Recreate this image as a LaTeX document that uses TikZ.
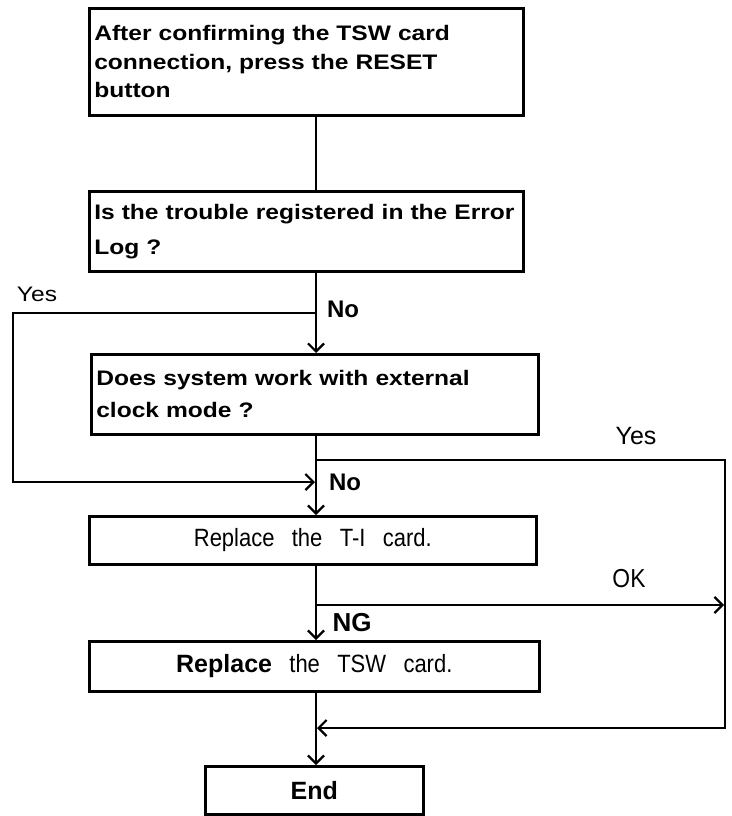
\documentclass[tikz,border=0pt]{standalone}
\usepackage{fontspec}
\setmainfont{Liberation Sans}
\newfontfamily\wideface{Liberation Sans}[FakeStretch=1.17]
\newfontfamily\thinface{Liberation Sans}[FakeStretch=0.88]
\usetikzlibrary{arrows.meta}

\newcommand{\gap}{~\hspace{9pt}}

\begin{document}
\begin{tikzpicture}[x=1pt, y=-1pt, line width=2.6pt,
    >={Straight Barb[length=8pt,width=16pt,line width=2.2pt]},
    box/.style={draw, rectangle, anchor=north west, inner xsep=5pt, inner ysep=0pt,
        align=left, font=\wideface\bfseries\fontsize{21}{28.5}\selectfont},
    card/.style={draw, rectangle, anchor=north west, inner xsep=5pt, inner ysep=0pt,
        align=center, font=\fontsize{25}{28}\selectfont},
    lbl/.style={font=\bfseries\fontsize{24}{26}\selectfont, inner sep=0pt},
    note/.style={font=\thinface\fontsize{26}{28}\selectfont, inner sep=0pt}]
    \useasboundingbox (0,0) rectangle (731,816);
    \coordinate (spine) at (316,0);

    \node[box, text width=424pt, minimum height=107pt] (reset) at (88,7)
        {After confirming the TSW card\\ connection, press the RESET\\ button};
    \node[box, text width=424pt, minimum height=80pt,
        font=\wideface\bfseries\fontsize{21}{35}\selectfont] (errlog) at (88,190)
        {Is the trouble registered in the Error\\ Log ?};
    \node[box, text width=437pt, minimum height=80pt,
        font=\wideface\bfseries\fontsize{21}{32}\selectfont] (extclk) at (90,353)
        {Does system work with external\\ clock mode ?};
    \node[card, text width=437pt, minimum height=48pt] (repti) at (88,515)
        {\thinface Replace\gap the\gap T-I\gap card.};
    \node[card, text width=440pt, minimum height=50pt] (reptsw) at (88,640)
        {\textbf{Replace}\gap{\thinface\mdseries the\gap TSW\gap card.}};
    \node[card, text width=208pt, minimum height=48pt] (finish) at (204,765)
        {\bfseries End};

    % branch points
    \coordinate (yesA) at (316,313);
    \coordinate (yesB) at (13,482);
    \coordinate (yesC) at (315,482);
    \coordinate (yesD) at (316,460);
    \coordinate (yesE) at (725,728);
    \coordinate (yesF) at (317,728);
    \coordinate (okA) at (316,605);
    \coordinate (okB) at (724,605);

    \draw (reset.south -| spine) -- (errlog.north -| spine);
    \draw[->] (errlog.south -| spine) -- (extclk.north -| spine);
    \draw[->] (extclk.south -| spine) -- (repti.north -| spine);
    \draw[->] (repti.south -| spine) -- (reptsw.north -| spine);
    \draw[->] (reptsw.south -| spine) -- (finish.north -| spine);
    \draw[->] (yesA) -| (yesB) -- (yesC);
    \draw[->] (yesD) -| (yesE) -- (yesF);
    \draw[->] (okA) -- (okB);

    \node[lbl, font=\wideface\fontsize{21}{24}\selectfont] (yes1) at (37,294) {Yes};
    \node[lbl] (no1) at (343,309) {No};
    \node[note, font=\fontsize{25}{28}\selectfont] (yes2) at (636,436) {Yes};
    \node[lbl] (no2) at (345,482) {No};
    \node[note] (ok) at (629,579) {OK};
    \node[lbl, font=\bfseries\fontsize{26}{28}\selectfont] (ng) at (352,623) {NG};
\end{tikzpicture}
\end{document}
